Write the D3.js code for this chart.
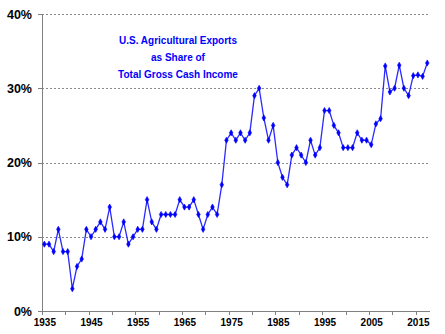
<!DOCTYPE html>
<html>
<head>
<meta charset="utf-8">
<script src="https://cdn.jsdelivr.net/npm/d3@7"></script>
<style>
  html, body { margin: 0; padding: 0; background: #fff; }
  svg { display: block; font-family: "Liberation Sans", Arial, sans-serif; }
</style>
</head>
<body>
<svg id="chart" width="445" height="334"></svg>
<script>
// Years covered by the series
const years = d3.range(1935, 2018);

// Agricultural exports as a percent of total gross cash income, one value per year
const sharePct = [
  9, 9, 8, 11, 8, 8, 3, 6, 7, 11,          // 1935-1944
  10, 11, 12, 11, 14, 10, 10, 12, 9, 10,   // 1945-1954
  11, 11, 15, 12, 11, 13, 13, 13, 13, 15,  // 1955-1964
  14, 14, 15, 13, 11, 13, 14, 13, 17, 23,  // 1965-1974
  24, 23, 24, 23, 24, 29, 30, 26, 23, 25,  // 1975-1984
  20, 18, 17, 21, 22, 21, 20, 23, 21, 22,  // 1985-1994
  27, 27, 25, 24, 22, 22, 22, 24, 23, 23,  // 1995-2004
  22.4, 25.2, 25.9, 33, 29.5, 30, 33.1, 30, 29, 31.7, // 2005-2014
  31.8, 31.6, 33.4                          // 2015-2017
];

const yTickValues = [0, 10, 20, 30, 40];
const xLabelYears = [1935, 1945, 1955, 1965, 1975, 1985, 1995, 2005, 2015];
const titleLines = ["U.S. Agricultural Exports", "as Share of", "Total Gross Cash Income"];

(function drawChart() {
  const data = years.map((yr, i) => ({ year: yr, value: sharePct[i] }));

  const svg = d3.select("#chart");
  const plotLeft = 42, plotRight = 429.6, plotTop = 14, plotBottom = 311;

  // Category-style axis: each year sits in the middle of its own slot
  const x = d3.scaleLinear()
    .domain([years[0] - 0.5, years[years.length - 1] + 0.5])
    .range([plotLeft, plotRight]);
  const y = d3.scaleLinear().domain([0, 40]).range([plotBottom, plotTop]);

  svg.append("rect").attr("width", 445).attr("height", 334).attr("fill", "#fff");

  // Dotted horizontal gridlines
  svg.append("g")
    .selectAll("line")
    .data(yTickValues.filter(v => v > 0))
    .join("line")
    .attr("x1", plotLeft).attr("x2", plotRight)
    .attr("y1", d => Math.round(y(d)) + 0.5).attr("y2", d => Math.round(y(d)) + 0.5)
    .attr("stroke", "#8a8a8a")
    .attr("stroke-width", 1)
    .attr("stroke-dasharray", "2,2");

  // Y axis
  const yAxis = svg.append("g")
    .attr("transform", `translate(${plotLeft},0)`)
    .call(d3.axisLeft(y).tickValues(yTickValues).tickSize(4).tickPadding(6).tickFormat(d => d + "%"));
  yAxis.select(".domain").attr("stroke", "#808080").attr("shape-rendering", "crispEdges");
  yAxis.selectAll(".tick line").attr("stroke", "#808080").attr("shape-rendering", "crispEdges");
  yAxis.selectAll(".tick text")
    .attr("font-family", "Liberation Sans, Arial, sans-serif")
    .attr("font-size", "12.5px").attr("font-weight", "bold").attr("fill", "#000");

  // X axis: tick marks on slot boundaries every 5 years
  const boundaryTicks = d3.range(years[0] - 0.5, years[years.length - 1] + 1, 5);
  const xTicks = svg.append("g")
    .attr("transform", `translate(0,${plotBottom})`)
    .call(d3.axisBottom(x).tickValues(boundaryTicks).tickSize(4).tickSizeOuter(0).tickFormat(""));
  xTicks.select(".domain").attr("stroke", "#808080").attr("shape-rendering", "crispEdges");
  xTicks.selectAll(".tick line").attr("stroke", "#808080").attr("shape-rendering", "crispEdges");

  // X axis labels every 10 years, centred on their slots
  const xLabels = svg.append("g")
    .attr("transform", `translate(0,${plotBottom})`)
    .call(d3.axisBottom(x).tickValues(xLabelYears).tickSize(0).tickPadding(8).tickFormat(d3.format("d")));
  xLabels.select(".domain").remove();
  xLabels.selectAll(".tick text")
    .attr("font-family", "Liberation Sans, Arial, sans-serif")
    .attr("font-size", "10px").attr("font-weight", "bold").attr("fill", "#000");

  // Series line
  const line = d3.line().x(d => x(d.year)).y(d => y(d.value));
  svg.append("path")
    .datum(data)
    .attr("fill", "none")
    .attr("stroke", "#2a2aff")
    .attr("stroke-width", 1.3)
    .attr("stroke-linejoin", "round")
    .attr("d", line);

  // Diamond markers
  const diamond = d3.symbol().type(d3.symbolDiamond).size(11);
  svg.append("g")
    .selectAll("path")
    .data(data)
    .join("path")
    .attr("transform", d => `translate(${x(d.year)},${y(d.value)})`)
    .attr("d", diamond)
    .attr("fill", "#0000ff")
    .attr("stroke", "#0000ff")
    .attr("stroke-width", 0.6);

  // Title block inside the plot
  svg.append("g")
    .selectAll("text")
    .data(titleLines)
    .join("text")
    .attr("x", 178)
    .attr("y", (d, i) => 44 + i * 17)
    .attr("text-anchor", "middle")
    .attr("font-family", "Liberation Sans, Arial, sans-serif")
    .attr("font-size", "10px")
    .attr("font-weight", "bold")
    .attr("fill", "#0000ff")
    .text(d => d);
})();
</script>
</body>
</html>
